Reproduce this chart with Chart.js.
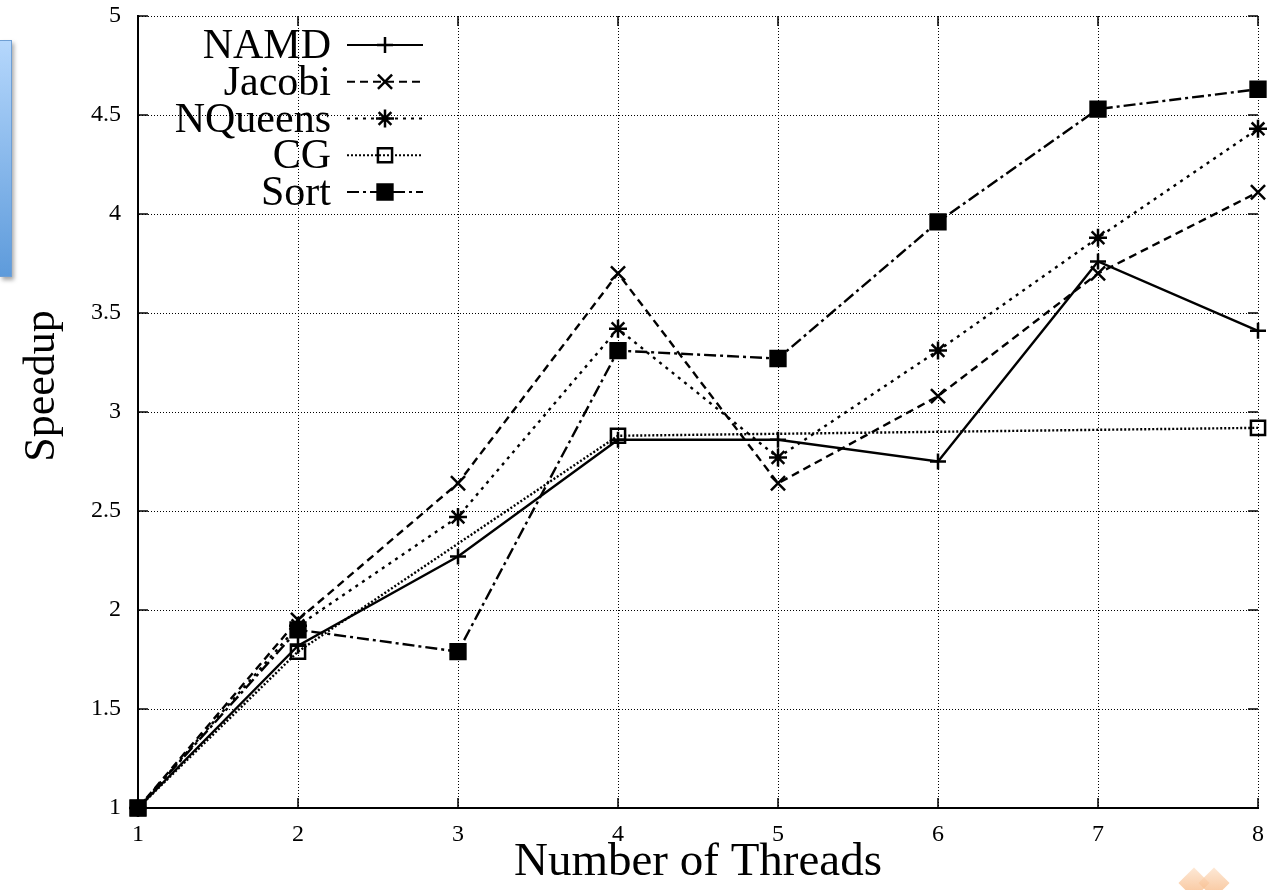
<!DOCTYPE html>
<html>
<head>
<meta charset="utf-8">
<title>Speedup vs threads</title>
<script src="https://cdn.jsdelivr.net/npm/chart.js@4/dist/chart.umd.min.js"></script>
<style>
html,body{margin:0;padding:0;background:#fff;}
#wrap{position:relative;width:1276px;height:890px;overflow:hidden;}
#side{position:absolute;left:0;top:40px;width:11px;height:235px;
background:linear-gradient(#b5d7fc,#5e9bdb);border:1px solid #6f9fd4;border-left:none;
box-shadow:2px 3px 4px rgba(0,0,0,.35);}
.chev{position:absolute;top:872px;width:22px;height:22px;transform:rotate(45deg);
background:linear-gradient(135deg,#fde3cc,#f6b27a);opacity:.8;}
</style>
</head>
<body>
<div id="wrap">
<canvas id="c" width="1276" height="890"></canvas>
<div id="side"></div>
<div class="chev" style="left:1183px"></div>
<div class="chev" style="left:1203px"></div>
</div>
<script>
const threads=[1,2,3,4,5,6,7,8];
const namd=[1,1.82,2.27,2.86,2.86,2.75,3.76,3.41];
const jacobi=[1,1.95,2.64,3.70,2.64,3.08,3.70,4.11];
const nqueens=[1,1.92,2.47,3.42,2.77,3.31,3.88,4.43];
const cgThreads=[1,2,4,8];
const cg=[1,1.79,2.88,2.92];
const sort=[1,1.90,1.79,3.31,3.27,3.96,4.53,4.63];

const serif='"Liberation Serif","DejaVu Serif",serif';

function pts(xs,ys){
return xs.map((x,i)=>({x:x,y:ys[i]}));
}

function series(label,xs,ys,dash,style,r,fill){
return {
label:label,
data:pts(xs,ys),
borderColor:"#000",
borderWidth:2.4,
borderDash:dash,
pointStyle:style,
pointRadius:r,
pointBorderColor:"#000",
pointBorderWidth:2.5,
pointBackgroundColor:fill,
tension:0,
fill:false,
clip:false
};
}

/* extra drawing: inward ticks, legend, y title */
const extras={
id:"extras",
beforeDatasetsDraw(chart){
const {ctx,chartArea:a,scales:{x,y}}=chart;
ctx.save();
ctx.strokeStyle="#000";
ctx.lineWidth=1.5;
ctx.setLineDash([]);
ctx.beginPath();
y.ticks.forEach(t=>{
const p=y.getPixelForValue(t.value);
ctx.moveTo(a.left,p);ctx.lineTo(a.left+10,p);
ctx.moveTo(a.right,p);ctx.lineTo(a.right-10,p);
});
x.ticks.forEach(t=>{
const p=x.getPixelForValue(t.value);
ctx.moveTo(p,a.bottom);ctx.lineTo(p,a.bottom-10);
ctx.moveTo(p,a.top);ctx.lineTo(p,a.top+10);
});
ctx.stroke();
ctx.restore();
},
afterDraw(chart){
const ctx=chart.ctx;
ctx.save();

// legend
chart.data.datasets.forEach((ds,i)=>{
const yy=45+i*36.75;
ctx.fillStyle="#000";
ctx.font="42px "+serif;
ctx.textAlign="right";
ctx.textBaseline="alphabetic";
ctx.fillText(ds.label,331,yy+13);

ctx.strokeStyle="#000";
ctx.lineWidth=2;
ctx.setLineDash(ds.borderDash);
ctx.beginPath();
ctx.moveTo(347,yy);ctx.lineTo(423,yy);
ctx.stroke();
ctx.setLineDash([]);
ctx.lineWidth=2.5;
ctx.fillStyle=ds.pointBackgroundColor;
Chart.helpers.drawPoint(ctx,{pointStyle:ds.pointStyle,radius:ds.pointRadius,rotation:0,borderWidth:2.5},385,yy);
});

// y title
ctx.translate(54,386);
ctx.rotate(-Math.PI/2);
ctx.fillStyle="#000";
ctx.font="44px "+serif;
ctx.textAlign="center";
ctx.textBaseline="alphabetic";
ctx.fillText("Speedup",0,0);
ctx.restore();
}
};

new Chart(document.getElementById("c"),{
type:"line",
data:{
datasets:[
series("NAMD",threads,namd,[],"cross",8,"rgba(0,0,0,0)"),
series("Jacobi",threads,jacobi,[8,5],"crossRot",10,"rgba(0,0,0,0)"),
series("NQueens",threads,nqueens,[3,5],"star",9,"rgba(0,0,0,0)"),
series("CG",cgThreads,cg,[2,2],"rect",10,"rgba(0,0,0,0)"),
series("Sort",threads,sort,[12,4,3,4],"rect",10.5,"#000")
]
},
options:{
responsive:false,
devicePixelRatio:1,
animation:false,
layout:{padding:{top:16,right:18,left:0,bottom:0}},
plugins:{legend:{display:false},tooltip:{enabled:false}},
scales:{
x:{
type:"linear",
min:1,max:8,
afterFit:s=>{s.height=82;s.paddingLeft=0;s.paddingRight=0;},
ticks:{stepSize:1,padding:12,color:"#000",font:{family:serif,size:24}},
grid:{color:"#000",lineWidth:1,drawTicks:false},
border:{display:true,color:"#000",width:2,dash:[1,2]},
title:{display:true,text:"Number of Threads",color:"#000",
font:{family:serif,size:47,lineHeight:1.2},padding:{top:0,bottom:-1}}
},
y:{
min:1,max:5,
afterFit:s=>{s.width=138;s.paddingTop=0;s.paddingBottom=0;},
ticks:{stepSize:0.5,padding:17,color:"#000",font:{family:serif,size:24},
callback:v=>String(v)},
grid:{color:"#000",lineWidth:1,drawTicks:false},
border:{display:true,color:"#000",width:2,dash:[1,2]}
}
}
},
plugins:[extras]
});
</script>
</body>
</html>
